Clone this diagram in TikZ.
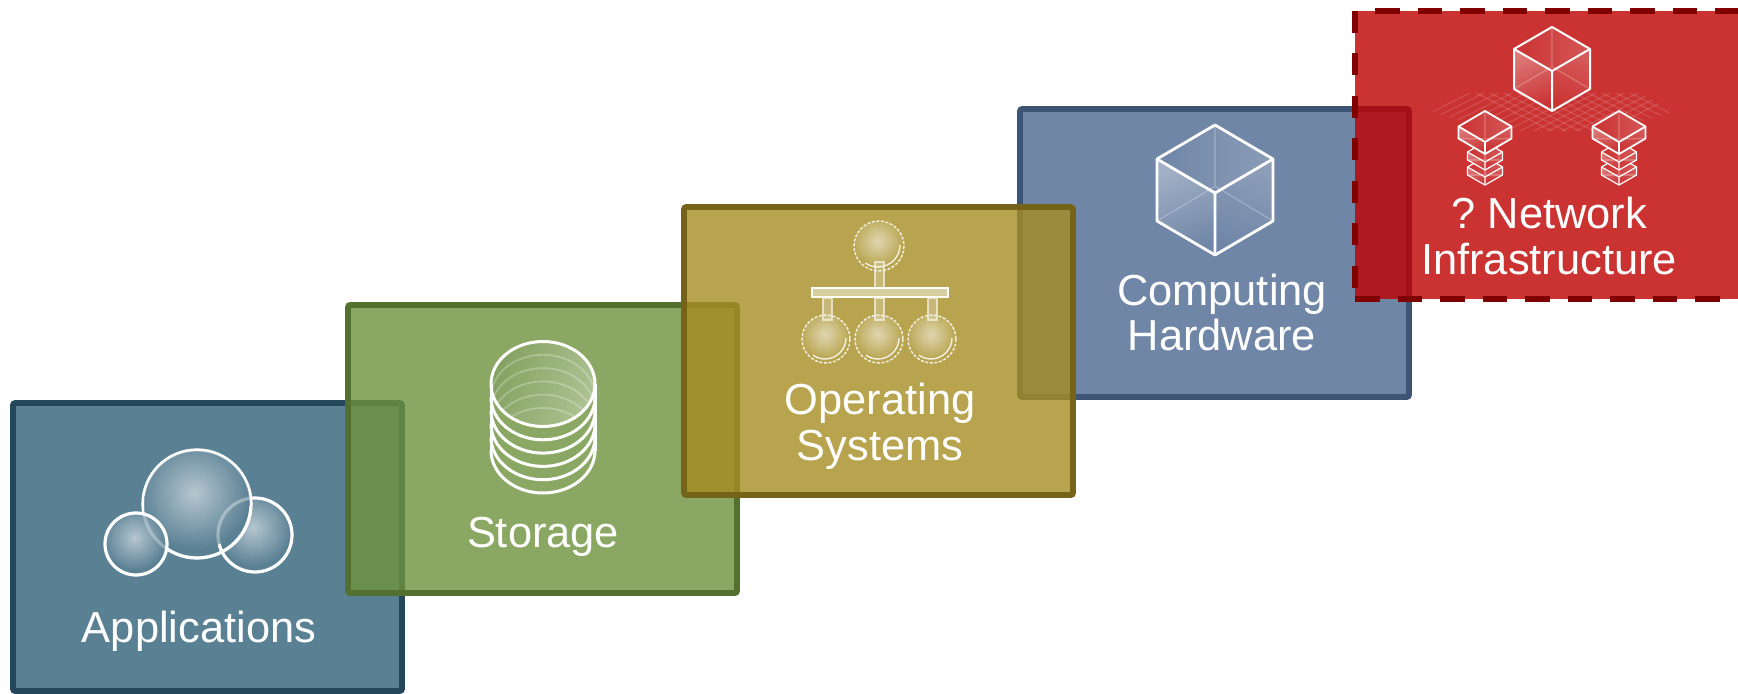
\documentclass[tikz,border=0pt]{standalone}
\usepackage{fontspec}
\setmainfont{Liberation Sans}
\definecolor{appsfill}{HTML}{5A8094}
\definecolor{appsline}{HTML}{24475C}
\definecolor{storefill}{HTML}{6D923D}
\definecolor{storebase}{HTML}{8AA864}
\definecolor{storeline}{HTML}{54702E}
\definecolor{osfill}{HTML}{A68D23}
\definecolor{osbase}{HTML}{B8A44F}
\definecolor{osline}{HTML}{75631A}
\definecolor{hardfill}{HTML}{7086A7}
\definecolor{hardline}{HTML}{3D5475}
\definecolor{netfill}{HTML}{BE0000}
\definecolor{netbase}{HTML}{CB3232}
\definecolor{netline}{HTML}{800000}
\tikzset{
    tile/.style n args={2}{rectangle,draw=#2,fill=#1,line width=2.8pt,rounded corners=1pt,
        minimum width=194.5pt,minimum height=144pt,inner sep=0pt},
    caption/.style={text=white,font=\fontsize{21.7}{22}\selectfont,anchor=base,inner sep=0pt},
    rim/.style={draw=white,line width=1.5pt},
    stem/.style={draw=white!85!osbase,draw opacity=.75,fill=white,fill opacity=.22,line width=.6pt},
    netdash/.style={draw=netline,line width=3pt,dash pattern=on 12.25pt off 9pt},
}
% ball with an off-centre highlight: x, y, radius, inner colour, outer colour
\newcommand{\ballicon}[5]{%
    \begin{scope}
        \clip (#1,#2) circle (#3);
        \fill[#5] (#1,#2) circle (#3);
        \shade[inner color=#4,outer color=#5] (#1-#3*.05,#2-#3*.2) circle (#3*1.05);
    \end{scope}
}
% isometric box: top x, top y, half width, rise, height, line width, colour
\newcommand{\boxicon}[7]{%
    \begin{scope}[shift={(#1,#2)}]
        \shade[left color=#7!65!white,right color=#7,shading angle=20] (-#3,#4) -- (0,2*#4) -- (0,2*#4+#5) -- (-#3,#4+#5) -- cycle;
        \shade[left color=#7!80!white,right color=#7,shading angle=-20] (#3,#4) -- (0,2*#4) -- (0,2*#4+#5) -- (#3,#4+#5) -- cycle;
        \shade[left color=#7,right color=#7!82!white] (0,0) -- (#3,#4) -- (0,2*#4) -- (-#3,#4) -- cycle;
        \draw[white,opacity=.25,line width=.6pt] (0,0) -- (0,#4*1.8) -- (-#3,#4+#5) (0,#4*1.8) -- (#3,#4+#5);
        \draw[white,line width=#6,line join=round] (0,0) -- (#3,#4) -- (#3,#4+#5) -- (0,2*#4+#5) -- (-#3,#4+#5) -- (-#3,#4) -- cycle;
        \draw[white,line width=#6,line join=round] (-#3,#4) -- (0,2*#4) -- (#3,#4) (0,2*#4) -- (0,2*#4+#5);
    \end{scope}
}
% dotted ball of the tree
\newcommand{\treeball}[3]{%
    \ballicon{#1}{#2}{#3}{osbase!45!white}{osbase}
    \draw[white!85!osbase,line width=.7pt,dash pattern=on 1.5pt off .8pt] (#1,#2) circle (#3);
    \draw[white!85!osbase,line width=.7pt,shift={(#1-1,#2-1)}] (#3-3,0) arc [start angle=0,end angle=125,radius=#3-3];
}

\begin{document}
\begin{tikzpicture}[x=.5pt,y=-.5pt]
        \useasboundingbox (0,0) rectangle (1738,694);
        % the five tiles
        \node [tile={appsfill}{appsline}] (apps) at (207.5,547) {};
        \node [tile={storefill}{storeline},fill opacity=.8] (store) at (542.5,449) {};
        \node [tile={hardfill}{hardline}] (hard) at (1214.5,253) {};
        \node [tile={osfill}{osline},fill opacity=.8] (os) at (878.5,351) {};
        \node [tile={netfill}{none},fill opacity=.8,minimum width=200pt,rounded corners=0pt,outer sep=0pt] (net) at (1555,155) {};
        % dashed edges of the last tile
        \draw[netdash,dash pattern=on 10.85pt off 10.4pt] (net.north west) -- (net.south west);
        \draw[netdash] ([xshift=10pt]net.north west) -- (net.north east);
        \draw[netdash] (net.south west) -- (net.south east);

        % three bubbles
        \ballicon{255}{535}{37}{appsfill!45!white}{appsfill}
        \ballicon{197}{504}{54}{appsfill!45!white}{appsfill}
        \draw[white,line width=1.6pt] (255,535) circle (37);
        \draw[white,line width=1.6pt] (197,504) circle (54);
        \begin{scope}
            \clip (197,504) circle (53);
            \shade[inner color=appsfill!45!white,outer color=appsfill] (194,493) circle (57);
            \draw[white,opacity=.35,line width=1.6pt] (255,535) circle (37);
        \end{scope}
        \ballicon{136}{544}{31}{appsfill!45!white}{appsfill}
        \draw[white,opacity=.3,line width=1.6pt] (197,504) circle (54);
        \draw[white,line width=1.6pt] (136,544) circle (31);
        \node [caption] (appstext) at (199,642) {Applications};

        % disk stack
        \shade[left color=storebase,middle color=storebase!30!white,right color=storebase] (491,384) -- (491,451) arc [start angle=180,end angle=0,x radius=52,y radius=42.5] -- (595,384) -- cycle;
        \shade[left color=storebase!96!black,right color=storebase!70!white,shading angle=70] (543,384) ellipse [x radius=52,y radius=42.5];
        \begin{scope}
            \clip (543,384) ellipse [x radius=52,y radius=42.5];
            \foreach \i in {1,...,5}
                \draw[white,opacity=.25,line width=.9pt] (491,384+13.3*\i) arc [start angle=180,end angle=360,x radius=52,y radius=42.5];
        \end{scope}
        \foreach \i in {1,...,5}
            \draw[rim] (491,384+13.3*\i) arc [start angle=180,end angle=0,x radius=52,y radius=42.5];
        \draw[rim] (491,384) -- (491,451) (595,384) -- (595,451);
        \draw[rim] (543,384) ellipse [x radius=52,y radius=42.5];
        \node [caption] (storetext) at (543,547) {Storage};

        % small tree
        \treeball{879}{246}{25}
        \draw[stem] (875,262) rectangle (884,288);
        \draw[white,fill=osbase!55!white,line width=.8pt] (812,288) rectangle (948,297);
        \treeball{826}{339}{24}
        \treeball{879}{339}{24}
        \treeball{932}{339}{24}
        \foreach \x in {827.5,879.5,932.5}
            \draw[stem] (\x-4.5,298) rectangle (\x+4.5,320);
        \node [caption] (ostext) at (880,415) {Operating};
        \node [caption] (ostextb) at (880,460) {Systems};

        % hardware cube
        \boxicon{1215}{125}{58}{34}{62}{1.4pt}{hardfill}
        \node [caption] (hardtext) at (1222,306) {Computing};
        \node [caption] (hardtextb) at (1222,351) {Hardware};

        % faint floor under the network cube
        \begin{scope}
            \clip (1432,112) -- (1463,93) -- (1640,93) -- (1673,112) -- (1610,131) -- (1495,131) -- cycle;
            \foreach \i in {0,...,24} {
                \draw[white,opacity=.13,line width=.6pt] (1410+\i*14,60) -- ++(160,80);
                \draw[white,opacity=.13,line width=.6pt] (1410+\i*14,60) -- ++(-160,80);
            }
        \end{scope}
        % network cube and the two stacks
        \boxicon{1552}{27}{38}{22}{40}{1pt}{netbase}
        \foreach \x in {1485,1619} {
            \boxicon{\x}{157}{17.5}{10}{8}{.6pt}{netbase}
            \boxicon{\x}{142}{17.5}{10}{8}{.6pt}{netbase}
            \boxicon{\x}{111}{26.5}{15.5}{12}{.9pt}{netbase}
        }
        \node [caption] (nettext) at (1549,229) {? \hspace{-.08em}Network};
        \node [caption] (nettextb) at (1549,275) {Infrastructure};
    \end{tikzpicture}
\end{document}
